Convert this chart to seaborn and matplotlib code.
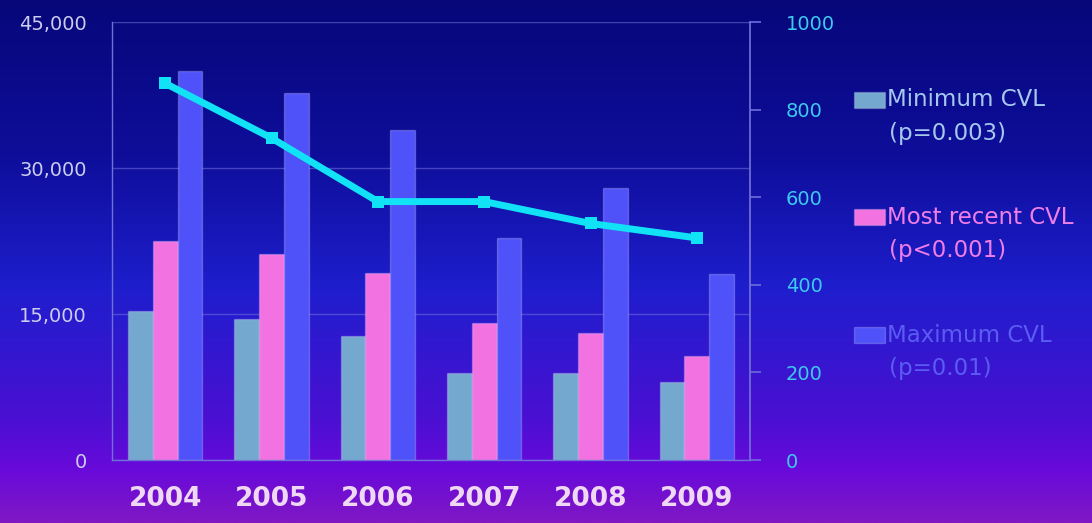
import numpy as np
import pandas as pd
import matplotlib
matplotlib.use("Agg")
import matplotlib.pyplot as plt
import seaborn as sns
from matplotlib.colors import LinearSegmentedColormap
from matplotlib.patches import Rectangle

# Data
years = ["2004", "2005", "2006", "2007", "2008", "2009"]
min_cvl = [15300, 14500, 12750, 8950, 8900, 8000]
recent_cvl = [22500, 21200, 19200, 14100, 13000, 10700]
max_cvl = [40000, 37700, 33900, 22800, 27900, 19100]
line_vals = [860, 735, 590, 590, 540, 507]

series_names = ["Minimum CVL", "Most recent CVL", "Maximum CVL"]
p_labels = ["(p=0.003)", "(p<0.001)", "(p=0.01)"]
bar_colors = ["#74A8CE", "#F272E2", "#4F52F8"]
text_colors = ["#A6C8EE", "#F07EE6", "#5A5CF2"]

left_ticks = [0, 15000, 30000, 45000]
right_ticks = [0, 200, 400, 600, 800, 1000]

df = pd.DataFrame({
    "year": years * 3,
    "value": min_cvl + recent_cvl + max_cvl,
    "series": np.repeat(series_names, len(years)),
})

sns.set_theme(style="white")
plt.rcParams['font.family'] = ['DejaVu Sans']

fig = plt.figure(figsize=(10.92, 5.23), dpi=100)

# slide background gradient
bg = fig.add_axes([0, 0, 1, 1], zorder=-10)
stops = [(0.0, (7/255, 7/255, 122/255)), (0.3, (14/255, 14/255, 155/255)),
         (0.55, (30/255, 30/255, 205/255)), (0.8, (74/255, 16/255, 210/255)),
         (0.9, (104/255, 10/255, 218/255)), (1.0, (128/255, 24/255, 196/255))]
cmap = LinearSegmentedColormap.from_list("slide", stops)
grad = np.linspace(0, 1, 256).reshape(-1, 1)
bg.imshow(grad, aspect="auto", cmap=cmap, extent=[0, 1, 0, 1], origin="upper")
bg.axis("off")

ax = fig.add_axes([112/1092, 63/523, 638/1092, 438/523])
ax.patch.set_alpha(0)

sns.barplot(data=df, x="year", y="value", hue="series", order=years,
            hue_order=series_names, palette=bar_colors, width=0.7, saturation=1,
            edgecolor=(1, 1, 1, 0.22), linewidth=1, legend=False, ax=ax)

ax.set_ylim(0, 45000)
ax.set_xlim(-0.5, len(years) - 0.5)
ax.set_yticks(left_ticks)
ax.set_yticklabels([f"{v:,}" for v in left_ticks])
ax.set_xlabel("")
ax.set_ylabel("")
ax.grid(axis="y", color="#6A6AD8", alpha=0.6, linewidth=1)
ax.set_axisbelow(True)
for s in ["top", "right"]:
    ax.spines[s].set_visible(False)
for s in ["left", "bottom"]:
    ax.spines[s].set_color("#7070D8")
    ax.spines[s].set_linewidth(1)

ax.tick_params(axis="y", length=0, pad=18, labelsize=14, labelcolor="#CCCCEE")
ax.tick_params(axis="x", which="major", length=0, pad=19, labelsize=19,
               labelcolor="#EED8F4")
for lbl in ax.get_xticklabels():
    lbl.set_fontweight("bold")
ax.set_xticks(np.arange(len(years) + 1) - 0.5, minor=True)
ax.tick_params(axis="x", which="minor", length=7, direction="out",
               color="#6A5AD8")

# secondary axis with the line
ax2 = ax.twinx()
sns.lineplot(x=np.arange(len(years)), y=line_vals, color="#12E2F6",
             linewidth=5, marker="s", markersize=9, markeredgewidth=0, ax=ax2)
ax2.set_ylim(0, 1000)
ax2.set_yticks(right_ticks)
ax2.set_yticklabels([str(v) for v in right_ticks])
ax2.grid(False)
for s in ["top", "left", "bottom"]:
    ax2.spines[s].set_visible(False)
ax2.spines["right"].set_color("#7070D8")
ax2.tick_params(axis="y", length=8, direction="out", color="#6A6AD8",
                pad=18, labelsize=14, labelcolor="#3CCBEF")

# legend drawn on the slide
legend_rows = [100, 217, 335]
for name, pl, fc, tc, ypix in zip(series_names, p_labels, bar_colors, text_colors, legend_rows):
    fig.patches.append(Rectangle((854/1092, 1 - (ypix + 8)/523), 31/1092, 16/523,
                                 transform=fig.transFigure, facecolor=fc,
                                 edgecolor=(1, 1, 1, 0.2), linewidth=1))
    fig.text(887/1092, 1 - ypix/523, name, color=tc, fontsize=16.5,
             ha="left", va="center")
    fig.text(889/1092, 1 - (ypix + 34)/523, pl, color=tc, fontsize=16.5,
             ha="left", va="center")

fig.savefig("out.png", dpi=100)
